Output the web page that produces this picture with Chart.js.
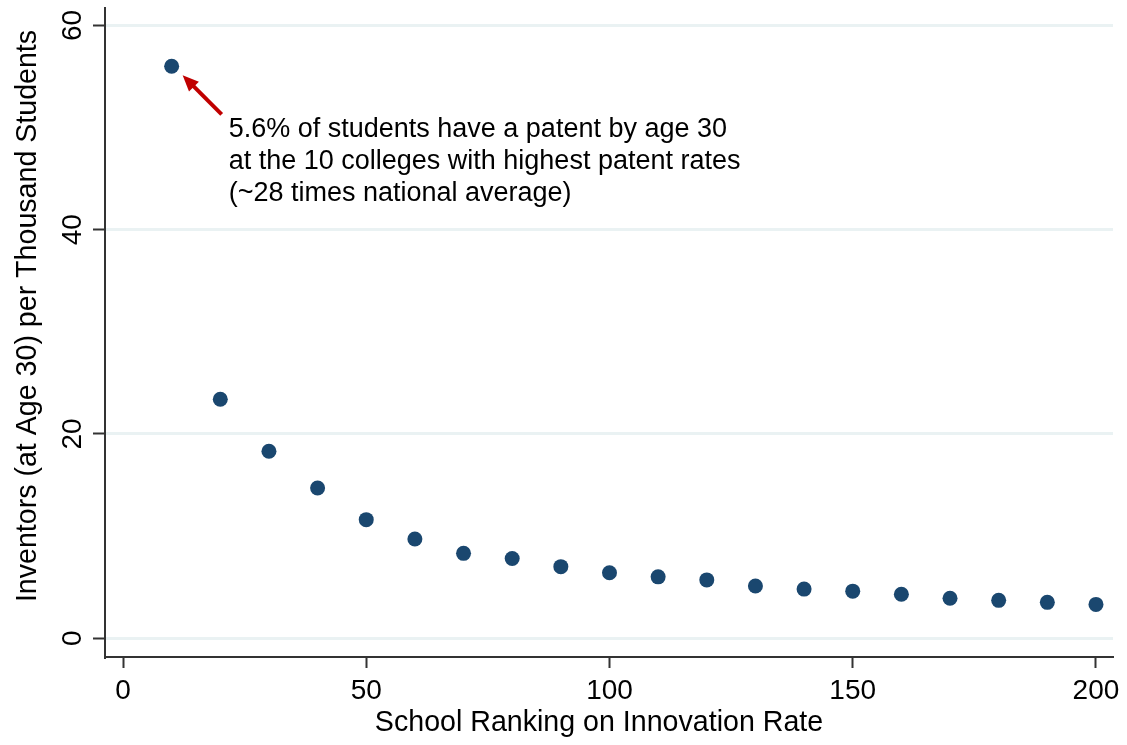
<!DOCTYPE html>
<html>
<head>
<meta charset="utf-8">
<script src="https://cdn.jsdelivr.net/npm/chart.js@4/dist/chart.umd.min.js"></script>
<style>
  html, body { margin: 0; padding: 0; background: #fff; }
</style>
</head>
<body>
<canvas id="myChart" width="1127" height="745"></canvas>
<script>
const ranks = [10, 20, 30, 40, 50, 60, 70, 80, 90, 100, 110, 120, 130, 140, 150, 160, 170, 180, 190, 200];
const inventors = [56.0, 23.4, 18.3, 14.7, 11.6, 9.7, 8.3, 7.8, 7.0, 6.4, 6.0, 5.7, 5.1, 4.8, 4.6, 4.3, 3.9, 3.7, 3.5, 3.3];
const xTicks = [0, 50, 100, 150, 200];
const yTicks = [0, 20, 40, 60];
const xTitle = 'School Ranking on Innovation Rate';
const yTitle = 'Inventors (at Age 30) per Thousand Students';
const noteLines = [
    '5.6% of students have a patent by age 30',
    'at the 10 colleges with highest patent rates',
    '(~28 times national average)'
];

const FONT = "'Liberation Sans', Arial, sans-serif";

const annotate = {
    id: 'annotate',
    afterDatasetsDraw(chart) {
        const ctx = chart.ctx;
        const x = chart.scales.x, y = chart.scales.y;
        const px = x.getPixelForValue(ranks[0]);
        const py = y.getPixelForValue(inventors[0]);

        // arrow
        const tipX = px + 11, tipY = py + 9;
        const tailX = px + 50, tailY = py + 48;
        const ang = Math.atan2(tipY - tailY, tipX - tailX);
        ctx.save();
        ctx.strokeStyle = '#c00000';
        ctx.fillStyle = '#c00000';
        ctx.lineWidth = 4;
        ctx.beginPath();
        ctx.moveTo(tailX, tailY);
        ctx.lineTo(tipX - 10 * Math.cos(ang), tipY - 10 * Math.sin(ang));
        ctx.stroke();
        ctx.beginPath();
        ctx.moveTo(tipX, tipY);
        ctx.lineTo(tipX - 16 * Math.cos(ang) + 7 * Math.sin(ang), tipY - 16 * Math.sin(ang) - 7 * Math.cos(ang));
        ctx.lineTo(tipX - 16 * Math.cos(ang) - 7 * Math.sin(ang), tipY - 16 * Math.sin(ang) + 7 * Math.cos(ang));
        ctx.closePath();
        ctx.fill();

        // note text
        ctx.fillStyle = '#000';
        ctx.font = '27px ' + FONT;
        ctx.textBaseline = 'middle';
        ctx.textAlign = 'left';
        noteLines.forEach((line, i) => {
            ctx.fillText(line, px + 57, py + 63 + i * 32);
        });

        // axis titles (placed like the original, slightly off the plot centre)
        ctx.font = '28.6px ' + FONT;
        ctx.textAlign = 'center';
        ctx.fillText(xTitle, 599, 723);
        ctx.translate(28, 316);
        ctx.rotate(-Math.PI / 2);
        ctx.fillText(yTitle, 0, 0);
        ctx.restore();
    }
};

const ctx = document.getElementById('myChart').getContext('2d');
const chart = new Chart(ctx, {
    type: 'scatter',
    data: {
        datasets: [{
            data: ranks.map((r, i) => ({ x: r, y: inventors[i] })),
            backgroundColor: '#1a476f',
            borderColor: '#1a476f',
            pointRadius: 7.5,
            pointHoverRadius: 7.5,
            borderWidth: 0
        }]
    },
    options: {
        responsive: false,
        animation: false,
        layout: { padding: { top: 5, right: 14, left: 0, bottom: 0 } },
        plugins: {
            legend: { display: false },
            tooltip: { enabled: false }
        },
        scales: {
            x: {
                type: 'linear',
                min: -3.7,
                max: 203.5,
                afterBuildTicks: (s) => { s.ticks = xTicks.map(v => ({ value: v })); },
                afterFit: (s) => { s.height = 88; s.paddingLeft = 0; s.paddingRight = 0; },
                border: { color: '#333', width: 2 },
                grid: { drawOnChartArea: false, tickLength: 11, tickColor: '#333', tickWidth: 2 },
                ticks: { color: '#000', font: { family: FONT, size: 28 }, padding: 6, maxRotation: 0 }
            },
            y: {
                type: 'linear',
                min: -1.85,
                max: 61.76,
                afterBuildTicks: (s) => { s.ticks = yTicks.map(v => ({ value: v })); },
                afterFit: (s) => { s.width = 105; s.paddingTop = 0; s.paddingBottom = 0; },
                border: { color: '#333', width: 2 },
                grid: { color: '#eaf2f3', lineWidth: 3, tickLength: 12, tickColor: '#333', tickWidth: 2 },
                ticks: { color: '#000', font: { family: FONT, size: 28 }, padding: 4, minRotation: 90, maxRotation: 90, crossAlign: 'center' }
            }
        }
    },
    plugins: [annotate]
});
</script>
</body>
</html>
